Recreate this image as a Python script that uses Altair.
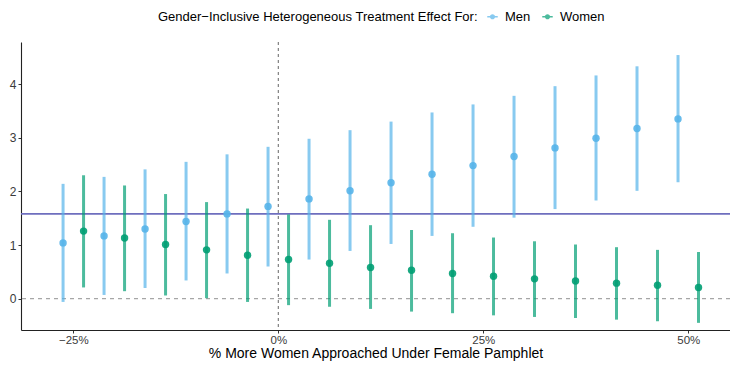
import altair as alt
import pandas as pd

# x positions (% more women approached)
pct = [-25, -20, -15, -10, -5, 0, 5, 10, 15, 20, 25, 30, 35, 40, 45, 50]

men_est = [1.04, 1.17, 1.30, 1.44, 1.58, 1.72, 1.86, 2.01, 2.16, 2.32, 2.48, 2.65, 2.81, 2.99, 3.17, 3.35]
men_lo = [-0.06, 0.07, 0.20, 0.34, 0.47, 0.60, 0.73, 0.89, 1.02, 1.17, 1.34, 1.51, 1.67, 1.83, 2.01, 2.17]
men_hi = [2.14, 2.27, 2.41, 2.55, 2.69, 2.83, 2.98, 3.14, 3.30, 3.47, 3.62, 3.78, 3.96, 4.16, 4.33, 4.54]

women_est = [1.26, 1.13, 1.01, 0.91, 0.81, 0.73, 0.66, 0.58, 0.53, 0.47, 0.42, 0.37, 0.33, 0.29, 0.25, 0.21]
women_lo = [0.21, 0.14, 0.06, 0.01, -0.06, -0.12, -0.15, -0.19, -0.24, -0.27, -0.31, -0.34, -0.36, -0.39, -0.42, -0.45]
women_hi = [2.30, 2.11, 1.95, 1.80, 1.68, 1.57, 1.47, 1.37, 1.28, 1.22, 1.14, 1.07, 1.01, 0.96, 0.91, 0.87]

groups = ["Men", "Women"]
colors = ["#56B4E9", "#009E73"]
reference_level = 1.58
dodge = 1.25  # percentage points of side-by-side dodge

rows = []
for i, p in enumerate(pct):
    rows.append({"pct": p, "group": "Men", "est": men_est[i], "lo": men_lo[i], "hi": men_hi[i]})
    rows.append({"pct": p, "group": "Women", "est": women_est[i], "lo": women_lo[i], "hi": women_hi[i]})
df = pd.DataFrame(rows)

FONT = "Liberation Sans"

xscale = alt.Scale(domain=[-0.3138, 0.5509], nice=False, zero=False)
yscale = alt.Scale(domain=[-0.583, 4.783], nice=False, zero=False)

base = alt.Chart(df).transform_calculate(
    xd=f"(datum.pct + (datum.group == 'Men' ? -{dodge} : {dodge})) / 100"
)

xaxis = alt.Axis(
    values=[-0.25, 0, 0.25, 0.5], format=".0%", title="% More Women Approached Under Female Pamphlet",
    grid=False, tickSize=3, labelPadding=1, labelFontSize=11.5,
    titleY=27, titleBaseline="alphabetic",
)
yaxis = alt.Axis(values=[0, 1, 2, 3, 4], format="d", title=None, grid=False, tickSize=3, labelPadding=2)

color_scale = alt.Scale(domain=groups, range=colors)

legend_symbol = (
    "M-1,-0.16 H1 V0.16 H-1 Z "
    "M-0.5,0 A0.5,0.5 0 1,1 0.5,0 A0.5,0.5 0 1,1 -0.5,0 Z"
)

legend = alt.Legend(
    title="Gender\u2212Inclusive Heterogeneous Treatment Effect For:",
    orient="none", legendX=137, legendY=-32, direction="horizontal",
    titleOrient="left", symbolType=legend_symbol, symbolSize=110,
    symbolStrokeWidth=0, labelFontSize=13, titleFontSize=13, titleLimit=600,
    titleFontWeight="normal", titleColor="#000000", labelColor="#000000",
    labelFont=FONT, titleFont=FONT, columnPadding=10, labelOffset=6,
    titlePadding=8, titleBaseline="middle", titleAnchor="middle",
)

zero_line = alt.Chart(pd.DataFrame({"y": [0]})).mark_rule(
    color="#A6A6A6", strokeDash=[4, 4], strokeWidth=1.2
).encode(y=alt.Y("y:Q", scale=yscale, axis=yaxis))

vline = alt.Chart(pd.DataFrame({"x": [0]})).mark_rule(
    color="#555555", strokeDash=[3, 3], strokeWidth=0.9
).encode(x=alt.X("x:Q", scale=xscale, axis=xaxis))

ref_line = alt.Chart(pd.DataFrame({"y": [reference_level]})).mark_rule(
    color="#6E6EBE", strokeWidth=1.6
).encode(y=alt.Y("y:Q", scale=yscale))

bars = base.mark_rule(strokeWidth=3, opacity=0.7).encode(
    x=alt.X("xd:Q", scale=xscale, axis=xaxis),
    y=alt.Y("lo:Q", scale=yscale, axis=yaxis),
    y2="hi:Q",
    color=alt.Color("group:N", scale=color_scale, legend=legend),
)

points = base.mark_point(filled=True, size=55, opacity=0.9).encode(
    x=alt.X("xd:Q", scale=xscale, axis=xaxis),
    y=alt.Y("est:Q", scale=yscale, axis=yaxis),
    color=alt.Color("group:N", scale=color_scale, legend=legend),
)

chart = alt.layer(zero_line, vline, ref_line, bars, points).properties(
    width=709, height=288,
    padding={"left": 13, "top": 34, "right": 0, "bottom": 32},
    autosize=alt.AutoSizeParams(type="none"),
    background="white",
).configure_view(stroke=None).configure_axis(
    domainColor="#222222", domainWidth=1.1, tickColor="#333333", tickWidth=1,
    labelFont=FONT, labelFontSize=12, labelColor="#3A3A3A",
    titleFont=FONT, titleFontSize=14, titleFontWeight="normal", titleColor="#000000",
)

chart.save("out.html", embed_options={"renderer": "svg", "actions": False})
